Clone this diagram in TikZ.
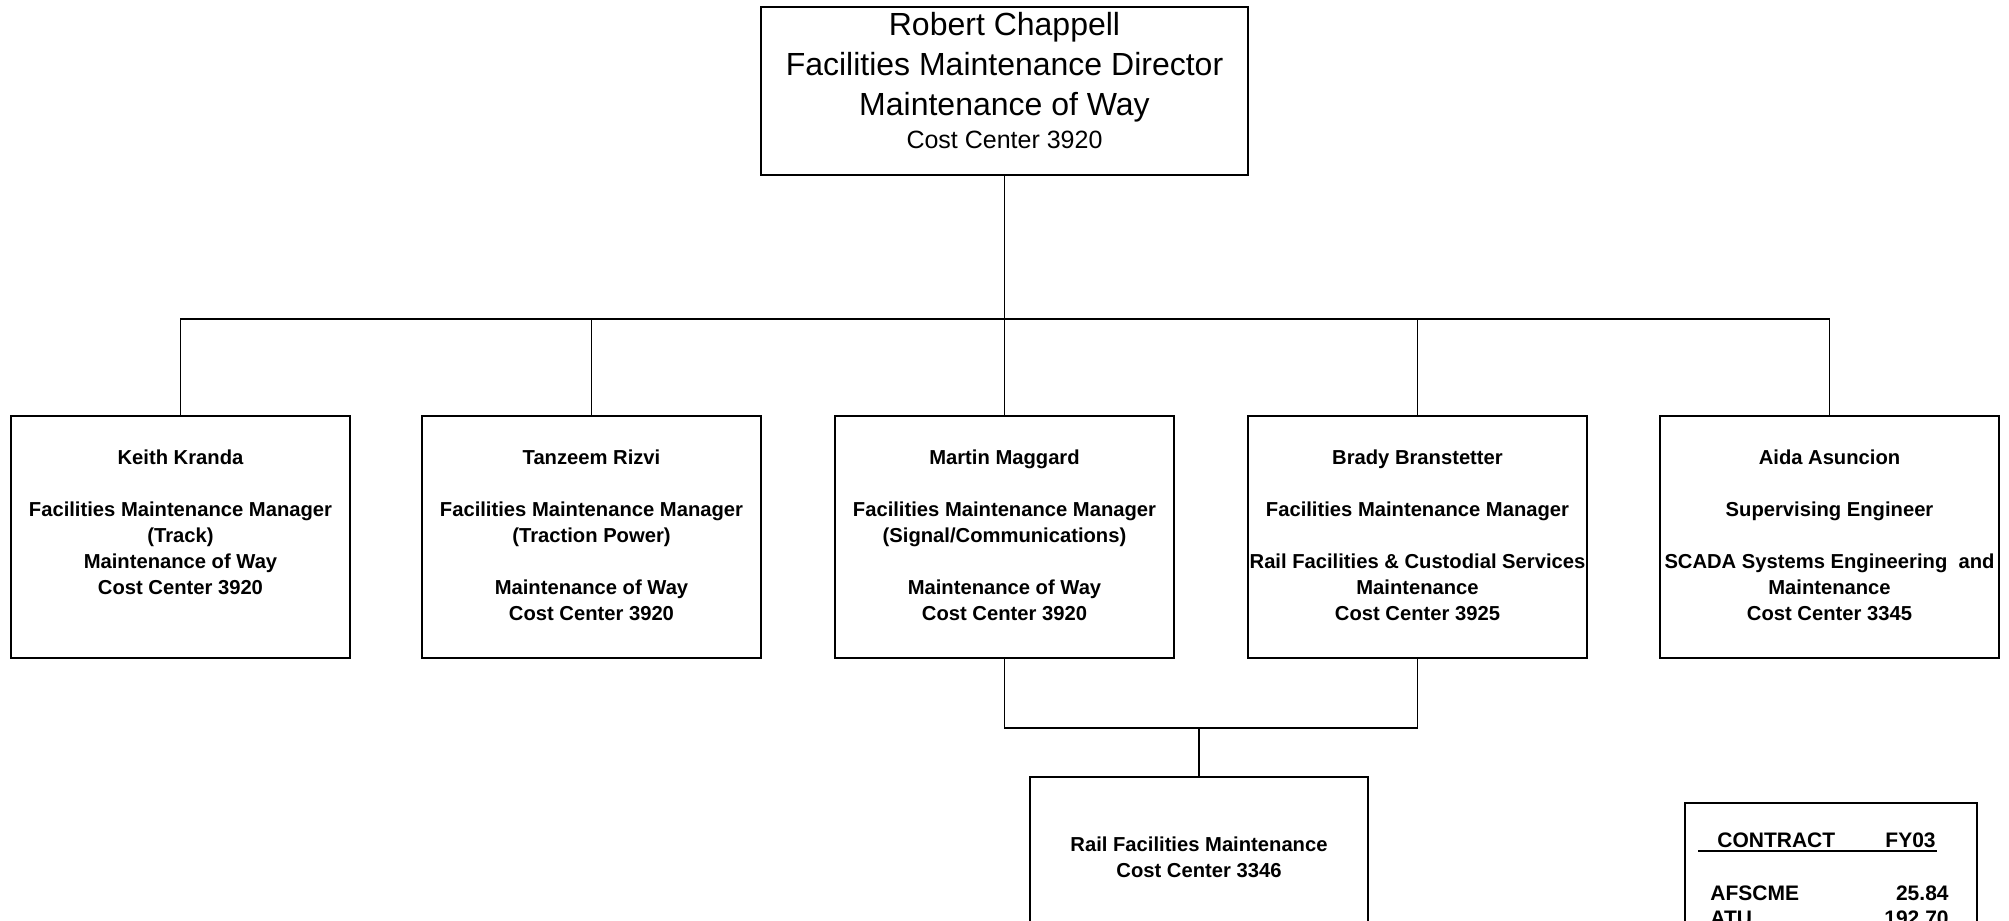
\documentclass[tikz,border=0pt]{standalone}
\usepackage{fontspec}
\setmainfont{Liberation Sans}
\newcommand{\mgrtext}[1]{\parbox[c][121pt][t]{169.5pt}{\centering\fontsize{10.1pt}{13pt}\bfseries\selectfont\rule{0pt}{24.3pt}#1\par}}
\begin{document}
\begin{tikzpicture}[x=0.5pt,y=-0.5pt,
  box/.style={draw, line width=1pt, inner sep=0pt, anchor=north west},
  link/.style={line width=0.7pt},
  ctext/.style={inner sep=0pt, font=\fontsize{10.5pt}{12.6pt}\bfseries\selectfont}]
\clip (0,0) rectangle (2009,921);
\fill[white] (0,0) rectangle (2009,921);

% top box
\node[box] (chappell) at (760,6) {\parbox[c][84pt][t]{243.5pt}{\centering\fontsize{16pt}{19.85pt}\selectfont\rule{0pt}{14.3pt}Robert Chappell\\Facilities Maintenance Director\\Maintenance of Way\\[-3.35pt]{\fontsize{12.5pt}{15pt}\selectfont Cost Center 3920}\par}};

% managers
\node[box] (keith) at (10,415) {\mgrtext{Keith Kranda\\[13pt]Facilities Maintenance Manager\\(Track)\\Maintenance of Way\\Cost Center 3920}};
\node[box] (tanzeem) at (421,415) {\mgrtext{Tanzeem Rizvi\\[13pt]Facilities Maintenance Manager\\(Traction Power)\\[13pt]Maintenance of Way\\Cost Center 3920}};
\node[box] (martin) at (834,415) {\mgrtext{Martin Maggard\\[13pt]Facilities Maintenance Manager\\(Signal/Communications)\\[13pt]Maintenance of Way\\Cost Center 3920}};
\node[box] (brady) at (1247,415) {\mgrtext{Brady Branstetter\\[13pt]Facilities Maintenance Manager\\[13pt]Rail Facilities \& Custodial Services\\Maintenance\\Cost Center 3925}};
\node[box] (aida) at (1659,415) {\mgrtext{Aida Asuncion\\[13pt]Supervising Engineer\\[13pt]SCADA Systems Engineering\ \ and\\Maintenance\\Cost Center 3345}};

% bottom box
\node[box] (railfm) at (1029,776) {\parbox[c][100pt][t]{169pt}{\centering\fontsize{10.1pt}{13pt}\bfseries\selectfont\rule{0pt}{37pt}Rail Facilities Maintenance\\Cost Center 3346\par}};

% contract table
\node[box, minimum width=146pt, minimum height=80pt] (contract) at (1684,802) {};
\node[ctext, anchor=base west] (hcontract) at (1717,847) {CONTRACT};
\node[ctext, anchor=base east] (hfy) at (1936,847) {FY03};
\draw[line width=1pt] (1698,851) -- (1937,851);
\node[ctext, anchor=base west] (afscme) at (1710,900) {AFSCME};
\node[ctext, anchor=base east] (afscmev) at (1949,900) {25.84};
\node[ctext, anchor=base west] (atu) at (1710,925) {ATU};
\node[ctext, anchor=base east] (atuv) at (1949,925) {192.70};

% connectors
\coordinate (ybus) at (0,319);
\coordinate (bus) at (chappell.south |- ybus);
\draw[link] (chappell.south) -- (bus);
\draw[link] (keith.north) |- (bus);
\draw[link] (aida.north) |- (bus);
\draw[link] (tanzeem.north) -- (tanzeem.north |- ybus);
\draw[link] (martin.north) -- (martin.north |- ybus);
\draw[link] (brady.north) -- (brady.north |- ybus);

\coordinate (ybus2) at (0,728);
\coordinate (bus2) at (railfm.north |- ybus2);
\draw[link] (martin.south) |- (bus2);
\draw[link] (brady.south) |- (bus2);
\draw[link] (bus2) -- (railfm.north);
\end{tikzpicture}
\end{document}
